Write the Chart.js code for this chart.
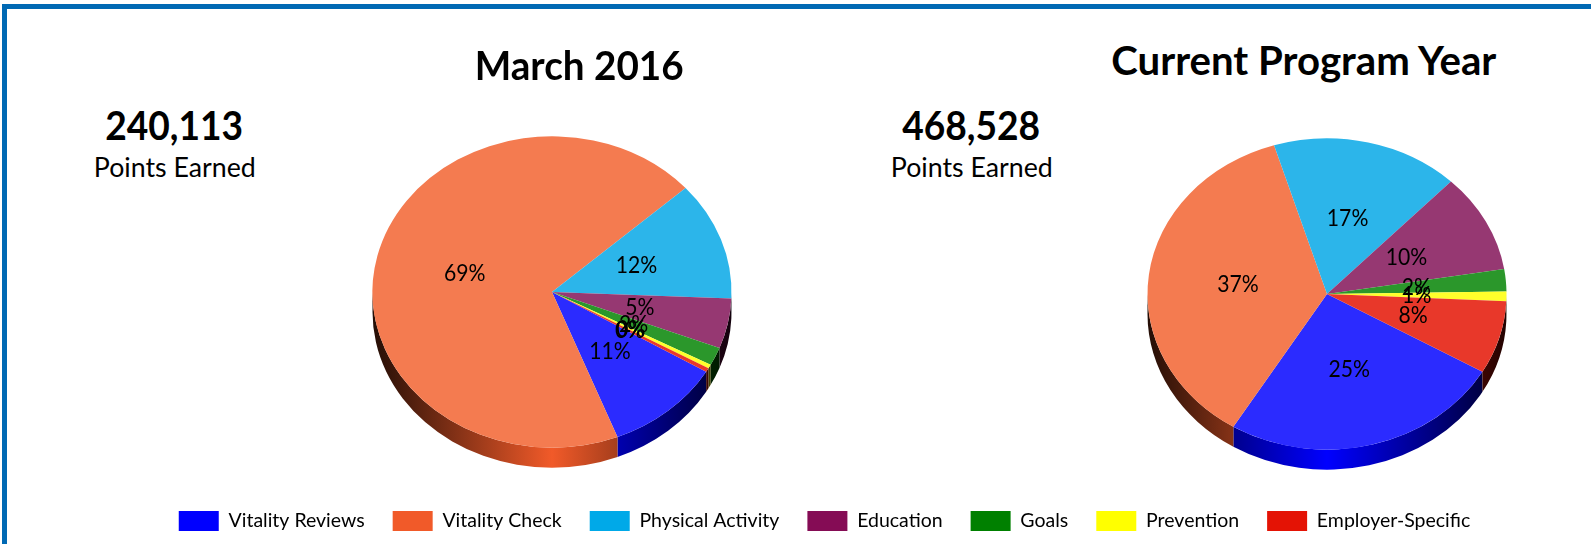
<!DOCTYPE html>
<html>
<head>
<meta charset="utf-8">
<script src="https://cdn.jsdelivr.net/npm/chart.js@4"></script>
<style>
    html, body { margin: 0; padding: 0; background: #fff; width: 1591px; height: 544px; overflow: hidden; }
    body { position: relative; font-family: Lato, "Open Sans", sans-serif; color: #000; }
    .barraTopo { position: absolute; left: 2px; top: 4px; width: 1589px; height: 5px; background: #0069b4; }
    .barraEsq { position: absolute; left: 2px; top: 4px; width: 5px; height: 540px; background: #0069b4; }
    canvas { position: absolute; }
    .texto { position: absolute; white-space: nowrap; transform-origin: center; }
    .titulo { font-weight: 700; font-size: 40px; }
    .total { font-weight: 700; font-size: 41px; }
    .sub { font-size: 27px; }
</style>
</head>
<body>
<div class="barraTopo"></div>
<div class="barraEsq"></div>
<canvas id="pieMes" width="420" height="420" style="left:341.5px;top:81.5px"></canvas>
<canvas id="pieAno" width="420" height="420" style="left:1117px;top:84px"></canvas>
<canvas id="legenda" width="1533" height="120" style="left:58px;top:421px"></canvas>
<div class="texto titulo" id="tituloMes"></div>
<div class="texto titulo" id="tituloAno"></div>
<div class="texto total" id="totalMes"></div>
<div class="texto total" id="totalAno"></div>
<div class="texto sub" id="subMes"></div>
<div class="texto sub" id="subAno"></div>
<script>
const categorias = ['Vitality Reviews', 'Vitality Check', 'Physical Activity', 'Education', 'Goals', 'Prevention', 'Employer-Specific'];
const valoresMes = [10.5, 69.3, 12.3, 5.2, 1.9, 0.4, 0.4];
const valoresAno = [25.4, 36.5, 16.9, 10.3, 2.3, 1.0, 7.6];
const tituloMes = 'March 2016';
const tituloAno = 'Current Program Year';
const totalMes = '240,113';
const totalAno = '468,528';
const subtitulo = 'Points Earned';

const coresLegenda = ['#0000ff', '#f15a29', '#00a9e8', '#850c55', '#008000', '#ffff00', '#e41305'];
const coresFace = ['#2b2bff', '#f47b50', '#2cb5ea', '#963872', '#2b972b', '#ffff2b', '#e8382a'];
const achatamento = 0.867;
const profundidade = 20;

function escurecer(hex, f) {
    const n = parseInt(hex.slice(1), 16);
    const r = Math.round((n >> 16 & 255) * f), g = Math.round((n >> 8 & 255) * f), b = Math.round((n & 255) * f);
    return `rgb(${r}, ${g}, ${b})`;
}

// desenha a lateral 3D e achata a pizza em elipse
const pizza3d = {
    id: 'pizza3d',
    beforeDatasetsDraw(chart) {
        const ctx = chart.ctx;
        const arcos = chart.getDatasetMeta(0).data;
        const cx = arcos[0].x, cy = arcos[0].y, rx = arcos[0].outerRadius, ry = rx * achatamento;
        arcos.forEach((arco, i) => {
            const partes = [[arco.startAngle, arco.endAngle], [arco.startAngle - 2 * Math.PI, arco.endAngle - 2 * Math.PI], [arco.startAngle + 2 * Math.PI, arco.endAngle + 2 * Math.PI]];
            partes.forEach(p => {
                const a = Math.max(p[0], 0), b = Math.min(p[1], Math.PI);
                if (b <= a) return;
                const grad = ctx.createLinearGradient(cx - rx, 0, cx + rx, 0);
                grad.addColorStop(0, escurecer(coresLegenda[i], 0.15));
                grad.addColorStop(0.5, coresLegenda[i]);
                grad.addColorStop(1, escurecer(coresLegenda[i], 0.15));
                ctx.beginPath();
                ctx.ellipse(cx, cy, rx, ry, 0, a, b);
                ctx.ellipse(cx, cy + profundidade, rx, ry, 0, b, a, true);
                ctx.closePath();
                ctx.fillStyle = grad;
                ctx.fill();
            });
        });
        ctx.save();
        ctx.translate(cx, cy);
        ctx.scale(1, achatamento);
        ctx.translate(-cx, -cy);
    },
    afterDatasetsDraw(chart) {
        const ctx = chart.ctx;
        ctx.restore();
        const arcos = chart.getDatasetMeta(0).data;
        const valores = chart.data.datasets[0].data;
        const cy = arcos[0].y;
        ctx.save();
        ctx.font = '23px Lato';
        ctx.fillStyle = '#000';
        ctx.textAlign = 'center';
        ctx.textBaseline = 'middle';
        arcos.forEach((arco, i) => {
            const pos = arco.tooltipPosition();
            ctx.save();
            ctx.translate(pos.x, cy + (pos.y - cy) * achatamento);
            ctx.scale(0.92, 1);
            ctx.fillText(Math.round(valores[i]) + '%', 0, 0);
            ctx.restore();
        });
        ctx.restore();
    }
};

function plotarPizza(id, valores, rotacao) {
    const ctx = document.getElementById(id).getContext('2d');
    return new Chart(ctx, {
        type: 'pie',
        data: {
            labels: categorias,
            datasets: [{ data: valores, backgroundColor: coresFace, borderWidth: 0 }]
        },
        options: {
            responsive: false,
            animation: false,
            events: [],
            rotation: rotacao,
            radius: 179.5,
            plugins: { legend: { display: false }, tooltip: { enabled: false } }
        },
        plugins: [pizza3d]
    });
}

plotarPizza('pieMes', valoresMes, 120.8);
plotarPizza('pieAno', valoresAno, 120);

// legenda unica para as duas pizzas
new Chart(document.getElementById('legenda').getContext('2d'), {
    type: 'pie',
    data: { labels: categorias, datasets: [{ data: [] }] },
    options: {
        responsive: false,
        animation: false,
        events: [],
        plugins: {
            tooltip: { enabled: false },
            legend: {
                position: 'bottom',
                labels: {
                    boxWidth: 40,
                    boxHeight: 20,
                    padding: 28,
                    color: '#000',
                    font: { family: 'Lato', size: 19.5 },
                    generateLabels: () => categorias.map((c, i) => ({
                        text: c, fillStyle: coresLegenda[i], strokeStyle: coresLegenda[i], lineWidth: 0, hidden: false, index: i
                    }))
                }
            }
        }
    }
});

function colocarTexto(id, texto, x, y, largura) {
    const el = document.getElementById(id);
    el.textContent = texto;
    const w = el.getBoundingClientRect().width;
    const h = el.getBoundingClientRect().height;
    el.style.left = (x - w / 2) + 'px';
    el.style.top = (y - h / 2) + 'px';
    el.style.transform = `scaleX(${largura / w})`;
}
colocarTexto('tituloMes', tituloMes, 579.5, 65, 209);
colocarTexto('tituloAno', tituloAno, 1303.5, 60, 385);
colocarTexto('totalMes', totalMes, 174.5, 124, 138);
colocarTexto('totalAno', totalAno, 971.5, 124, 138);
colocarTexto('subMes', subtitulo, 174.5, 166, 162);
colocarTexto('subAno', subtitulo, 972, 166, 162);
</script>
</body>
</html>
